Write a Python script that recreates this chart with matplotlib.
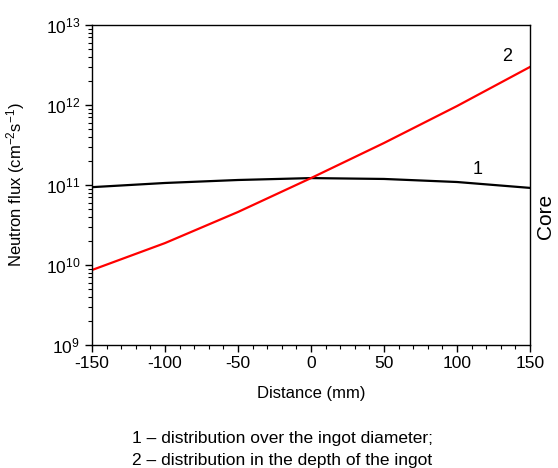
import numpy as np
import matplotlib
matplotlib.use("Agg")
import matplotlib.pyplot as plt
from matplotlib.ticker import MultipleLocator, LogLocator

plt.rcParams['font.family'] = ['Liberation Sans', 'DejaVu Sans']
plt.rcParams['mathtext.fontset'] = 'custom'
plt.rcParams['mathtext.rm'] = 'Liberation Sans'
plt.rcParams['mathtext.it'] = 'Liberation Sans:italic'
plt.rcParams['axes.unicode_minus'] = False

# distance along ingot (mm)
distance = [-150, -100, -50, 0, 50, 100, 150]
# curve 1 - over the ingot diameter
flux_diameter = [9.4e10, 1.06e11, 1.155e11, 1.22e11, 1.19e11, 1.09e11, 9.2e10]
# curve 2 - in the depth of the ingot
flux_depth = [8.66e9, 1.88e10, 4.6e10, 1.22e11, 3.35e11, 9.7e11, 2.99e12]

fig = plt.figure(figsize=(5.58, 4.68), dpi=100)
ax = fig.add_axes([0.1649, 0.2628, 0.7849, 0.6838])

ax.plot(distance, flux_diameter, color='black', lw=1.6)
ax.plot(distance, flux_depth, color='red', lw=1.6)

ax.set_yscale('log')
ax.set_xlim(-150, 150)
ax.set_ylim(1e9, 1e13)
ax.xaxis.set_major_locator(MultipleLocator(50))
ax.xaxis.set_minor_locator(MultipleLocator(10))
ax.yaxis.set_major_locator(LogLocator(base=10, numticks=10))
ax.yaxis.set_minor_locator(LogLocator(base=10, subs=np.arange(2, 10), numticks=20))
ax.tick_params(which='both', direction='out', top=False, right=False, labelsize=12.5)
ax.tick_params(which='major', length=5, width=1)
ax.tick_params(which='minor', length=3, width=0.8)
ax.tick_params(axis='x', pad=3)
for s in ax.spines.values():
    s.set_linewidth(1)

ax.set_xlabel('Distance (mm)', fontsize=12)
ax.set_ylabel('Neutron flux (cm$^{-2}$s$^{-1}$)', fontsize=12)
ax.xaxis.set_label_coords(0.5, -0.128)
ax.yaxis.set_label_coords(-0.148, 0.5)

ax.text(134, 4.0e12, '2', fontsize=13, ha='center', va='center')
ax.text(114, 1.55e11, '1', fontsize=13, ha='center', va='center')
fig.text(545 / 558, 1 - 216 / 468, 'Core', rotation=90, fontsize=15,
         ha='center', va='center')

fig.text(132 / 558, 1 - 438 / 468, '1 \u2013 distribution over the ingot diameter;',
         fontsize=12.5, ha='left', va='center')
fig.text(132 / 558, 1 - 460 / 468, '2 \u2013 distribution in the depth of the ingot',
         fontsize=12.5, ha='left', va='center')

fig.savefig('out.png', dpi=100)
